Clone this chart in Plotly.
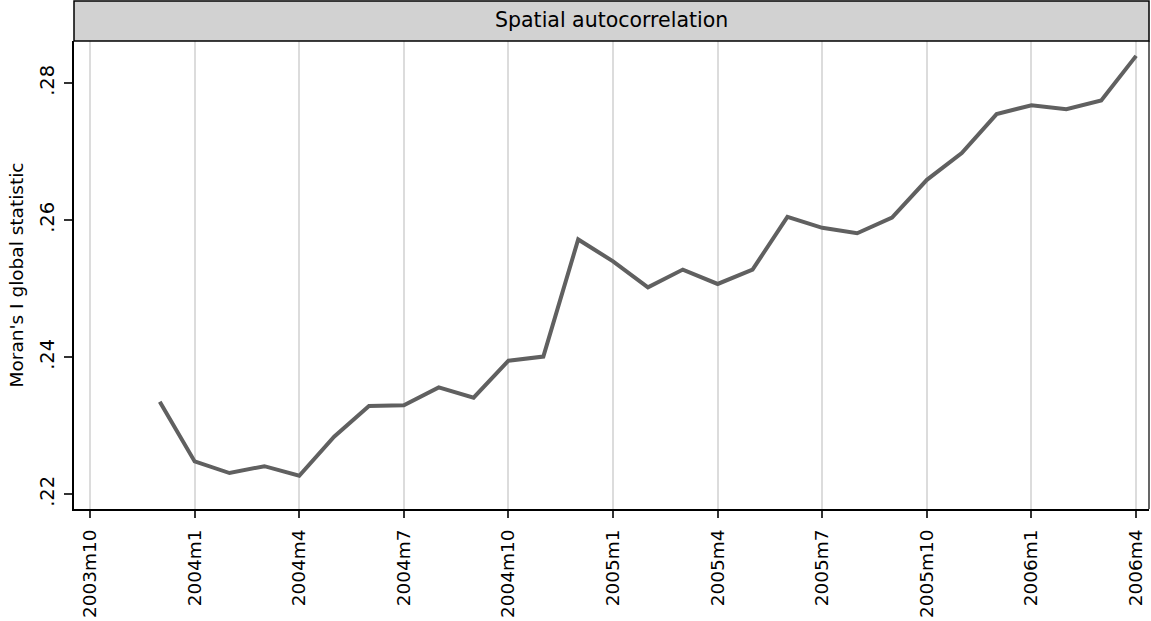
import plotly.graph_objects as go

# ---- data ----
months = ["2003m12", "2004m1", "2004m2", "2004m3", "2004m4", "2004m5", "2004m6",
          "2004m7", "2004m8", "2004m9", "2004m10", "2004m11", "2004m12",
          "2005m1", "2005m2", "2005m3", "2005m4", "2005m5", "2005m6",
          "2005m7", "2005m8", "2005m9", "2005m10", "2005m11", "2005m12",
          "2006m1", "2006m2", "2006m3", "2006m4"]
moran_i = [0.2335, 0.2248, 0.2231, 0.2241, 0.2227, 0.2284, 0.2329,
           0.2330, 0.2356, 0.2341, 0.2395, 0.2401, 0.2572,
           0.2540, 0.2502, 0.2528, 0.2507, 0.2528, 0.2605,
           0.2589, 0.2581, 0.2604, 0.2659, 0.2698, 0.2755,
           0.2768, 0.2762, 0.2775, 0.2840]
x_tick_labels = ["2003m10", "2004m1", "2004m4", "2004m7", "2004m10", "2005m1",
                 "2005m4", "2005m7", "2005m10", "2006m1", "2006m4"]
y_tick_values = [0.22, 0.24, 0.26, 0.28]
y_tick_labels = [".22", ".24", ".26", ".28"]
title_text = "Spatial autocorrelation"
y_title = "Moran's I global statistic"


def tm(label):
    """Stata %tm style month number."""
    y, m = label.split("m")
    return int(y) * 12 + int(m) - 1


x_vals = [tm(s) for s in months]
x_ticks = [tm(s) for s in x_tick_labels]

FONT = "DejaVu Sans"

fig = go.Figure()
fig.add_trace(go.Scatter(
    x=x_vals, y=moran_i, mode="lines",
    line=dict(color="#606060", width=4),
    hoverinfo="skip", showlegend=False,
))

W, H = 1151, 621
ml, mr, mt, mb = 74, 2, 41, 112
plot_h = H - mt - mb

fig.update_layout(
    width=W, height=H,
    margin=dict(l=ml, r=mr, t=mt, b=mb, pad=0, autoexpand=False),
    paper_bgcolor="white", plot_bgcolor="white",
    font=dict(family=FONT, size=18.5, color="black"),
    showlegend=False,
)

fig.update_xaxes(
    range=[x_ticks[0] - 0.46, x_ticks[-1] + 0.37],
    tickmode="array", tickvals=x_ticks, ticktext=x_tick_labels,
    tickangle=-90,
    ticks="outside", ticklen=7, tickwidth=1.5, tickcolor="#333333",
    showgrid=True, gridcolor="#dcdcdc", gridwidth=1.5,
    showline=True, linecolor="black", linewidth=2,
    zeroline=False,
    tickfont=dict(family=FONT, size=18.5, color="black"),
    ticklabelstandoff=4,
    automargin=False,
)
fig.update_yaxes(
    range=[0.21785, 0.28617],
    tickmode="array", tickvals=y_tick_values, ticktext=y_tick_labels,
    tickangle=-90,
    ticks="outside", ticklen=8, tickwidth=1.5, tickcolor="#333333",
    showgrid=False,
    showline=True, linecolor="black", linewidth=2,
    zeroline=False,
    tickfont=dict(family=FONT, size=19.5, color="black"),
    title=dict(text=y_title, font=dict(family=FONT, size=18.5, color="black"),
               standoff=8),
    ticklabelstandoff=2,
    automargin=False,
)

# title box
top_y = 1 + (mt - 1) / plot_h
fig.add_shape(type="rect", xref="paper", yref="paper",
              x0=0, x1=1, y0=1, y1=top_y,
              fillcolor="#d2d2d2", line=dict(color="black", width=1.5),
              layer="above")
# right border of the plot region
fig.add_shape(type="line", xref="paper", yref="paper",
              x0=1, x1=1, y0=0, y1=1,
              line=dict(color="black", width=1.2), layer="above")
fig.add_annotation(text=title_text, xref="paper", yref="paper",
                   x=0.5, y=1 + (mt / 2) / plot_h, xanchor="center", yanchor="middle",
                   showarrow=False,
                   font=dict(family=FONT, size=20.5, color="black"))

fig.write_html("out.html",
               config={"displayModeBar": False},
               post_script="document.body.style.margin='0';document.body.style.padding='0';")
